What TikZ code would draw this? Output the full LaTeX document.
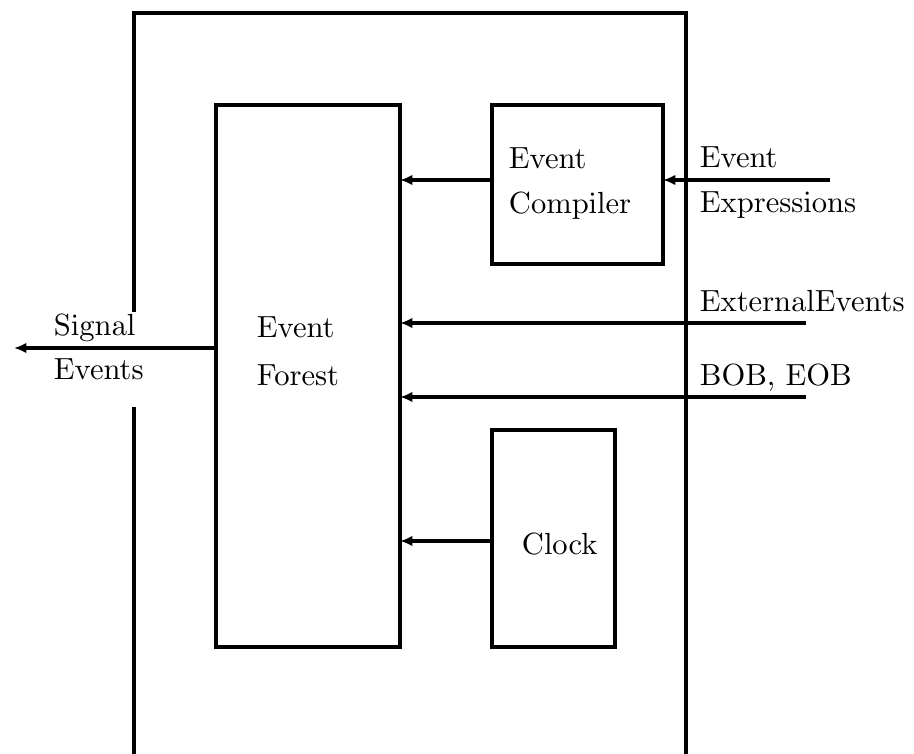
\documentclass[tikz,border=0pt]{standalone}
\usetikzlibrary{arrows.meta}
\font\bigrm=cmr10 at 17.4pt
\begin{document}
\begin{tikzpicture}[x=0.02cm,y=-0.02cm,
  line width=2.2pt,
  box/.style={draw,line width=2.2pt,inner sep=0pt,outer sep=0pt,anchor=north west},
  lbl/.style={anchor=base west,inner sep=0pt,font=\bigrm},
  arr/.style={-{Latex[length=7pt,width=6pt]}}]
\useasboundingbox (0,0) rectangle (914,754);
% outer frame
\draw (134,754) -- (134,407);
\draw (134,312) -- (134,13) -- (686,13) -- (686,754);
% boxes
\node[box,minimum width=3.68cm,minimum height=10.84cm] (forest) at (216,105) {};
\node[box,minimum width=3.42cm,minimum height=3.18cm] (compiler) at (492,105) {};
\node[box,minimum width=2.46cm,minimum height=4.34cm] (clock) at (492,430) {};
% texts
\node[lbl] (f1) at (255,337) {Event};
\node[lbl] (f2) at (255,385) {Forest};
\node[lbl] (c1) at (507,168) {Event};
\node[lbl] (c2) at (507,213) {Compiler};
\node[lbl] (k1) at (520,554) {Clock};
\node[lbl] (e1) at (698,167) {Event};
\node[lbl] (e2) at (698,212) {Expressions};
\node[lbl] (x1) at (698,311) {ExternalEvents};
\node[lbl] (b1) at (698,385) {BOB, EOB};
\node[lbl] (s1) at (52,335) {Signal};
\node[lbl] (s2) at (52,379) {Events};
% connector endpoints
\coordinate (cc) at (492,180);
\coordinate (ee) at (830,180);
\coordinate (xe) at (806,323);
\coordinate (be) at (806,397);
\coordinate (ck) at (492,541);
\coordinate (sf) at (216,348);
\coordinate (se) at (14,348);
% connectors
\draw[arr] (cc) -- (cc -| forest.east);
\draw[arr] (ee) -- (ee -| compiler.east);
\draw[arr] (xe) -- (xe -| forest.east);
\draw[arr] (be) -- (be -| forest.east);
\draw[arr] (ck) -- (ck -| forest.east);
\draw[arr] (sf) -- (se);
\end{tikzpicture}
\end{document}
